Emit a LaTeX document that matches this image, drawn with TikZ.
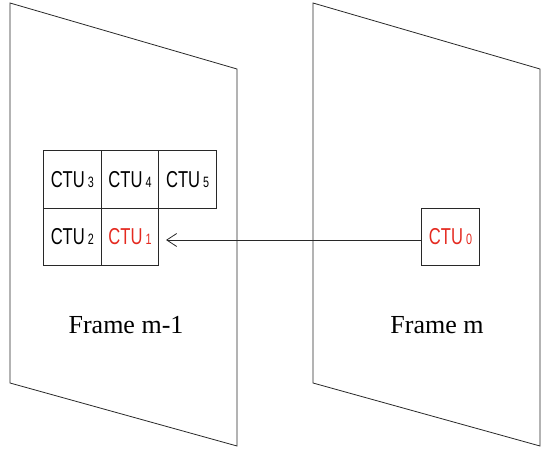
\documentclass[tikz,border=0pt]{standalone}
\usepackage{fontspec}
\setmainfont{Liberation Serif}
\newfontfamily\ctufont[FakeStretch=0.72]{Liberation Sans}
\usetikzlibrary{arrows.meta}
\definecolor{ctured}{RGB}{228,42,32}
\definecolor{linegray}{RGB}{40,40,40}
\newcommand{\ctulabel}[1]{{\ctufont\fontsize{23}{23}\selectfont CTU\hspace{3pt}{\fontsize{15}{15}\selectfont #1}}}
\begin{document}
\begin{tikzpicture}[x=1pt,y=-1pt,
  framepoly/.style={draw=linegray,line width=0.8pt},
  cell/.style={draw=linegray,line width=0.8pt,minimum width=57.5pt,minimum height=57.5pt,inner sep=0pt,anchor=center},
  hotcell/.style={cell,text=ctured},
  framelabel/.style={font=\fontsize{26}{26}\selectfont,inner sep=0pt,anchor=base},
  motion/.style={draw=linegray,line width=0.8pt,-{Straight Barb[length=10pt,width=13pt,line width=0.8pt]}}]
\useasboundingbox (0,0) rectangle (541,449);
% frames
\draw[framepoly] (10,3) -- (237,69) -- (237,446) -- (10,383) -- cycle;
\draw[framepoly] (313,3) -- (540,69) -- (540,446) -- (313,383) -- cycle;
% CTU grid in frame m-1
\node[cell] (c3) at (72.3,179.3) {\ctulabel{3}};
\node[cell] (c4) at (130,179.3) {\ctulabel{4}};
\node[cell] (c5) at (187.6,179.3) {\ctulabel{5}};
\node[cell] (c2) at (72.3,236.7) {\ctulabel{2}};
\node[hotcell] (c1) at (130,236.7) {\ctulabel{1}};
% CTU0 in frame m
\node[hotcell] (c0) at (450.5,236.7) {\ctulabel{0}};
% labels
\node[framelabel] (fl1) at (126,333) {Frame m-1};
\node[framelabel] (fl2) at (437,333) {Frame m};
% motion arrow
\coordinate (tip) at (166,240);
\draw[motion] (c0.west |- tip) -- (tip);
\end{tikzpicture}
\end{document}
